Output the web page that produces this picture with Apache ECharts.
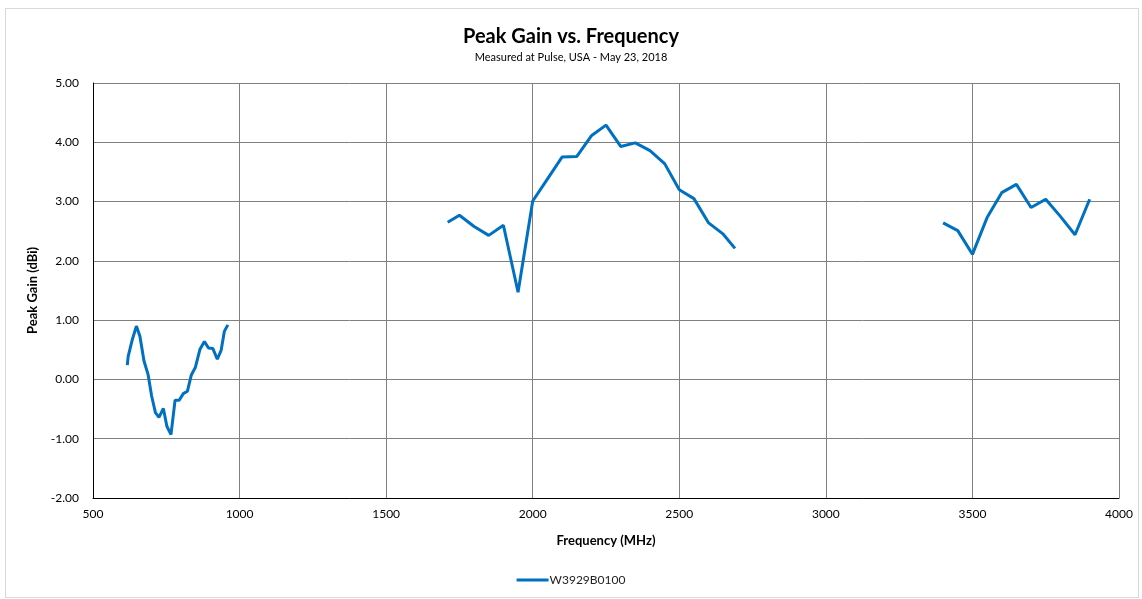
<!DOCTYPE html>
<html>
<head>
<meta charset="utf-8">
<script src="https://cdn.jsdelivr.net/npm/echarts@6/dist/echarts.min.js"></script>
<style>
html,body{margin:0;padding:0;background:#fff;}
#wrap{position:absolute;left:5px;top:8px;width:1134px;height:590px;border:1px solid #d9d9d9;box-sizing:border-box;}
#chart{position:absolute;left:0;top:0;width:1142px;height:599px;}
</style>
</head>
<body>
<div id="wrap"></div>
<div id="chart"></div>
<script>
// Low band
const freqLow = [617, 620, 634, 648, 660, 674, 688, 700, 713, 725, 740, 752, 766, 780, 794, 808, 822, 835, 849, 865, 880, 894, 909, 924, 937, 948, 960];
const gainLow = [0.24, 0.39, 0.67, 0.90, 0.73, 0.31, 0.08, -0.28, -0.56, -0.64, -0.49, -0.79, -0.93, -0.35, -0.35, -0.24, -0.20, 0.07, 0.20, 0.51, 0.64, 0.53, 0.52, 0.34, 0.49, 0.81, 0.92];
// Mid band
const freqMid = [1710, 1750, 1800, 1850, 1900, 1950, 2000, 2050, 2100, 2150, 2200, 2250, 2300, 2350, 2400, 2450, 2500, 2550, 2600, 2650, 2690];
const gainMid = [2.65, 2.77, 2.58, 2.43, 2.60, 1.47, 3.01, 3.38, 3.75, 3.76, 4.11, 4.29, 3.93, 3.99, 3.86, 3.64, 3.20, 3.05, 2.64, 2.45, 2.21];
// High band
const freqHigh = [3400, 3450, 3500, 3550, 3600, 3650, 3700, 3750, 3800, 3850, 3900];
const gainHigh = [2.64, 2.51, 2.11, 2.73, 3.15, 3.29, 2.90, 3.04, 2.75, 2.44, 3.04];

const seriesName = 'W3929B0100';
const titleText = 'Peak Gain vs. Frequency';
const subtitleText = 'Measured at Pulse, USA - May 23, 2018';

function pairs(f, g){ return f.map((x,i)=>[x, g[i]]); }
const data = [].concat(pairs(freqLow, gainLow), [[1300, null]], pairs(freqMid, gainMid), [[3000, null]], pairs(freqHigh, gainHigh));

const chart = echarts.init(document.getElementById('chart'), null, {renderer:'canvas'});
const font = 'Lato, "Open Sans", sans-serif';
chart.setOption({
  animation:false,
  title:{
    text:titleText, subtext:subtitleText, left:'center', top:22, itemGap:5,
    textStyle:{fontFamily:font, fontSize:20, fontWeight:'bold', color:'#000'},
    subtextStyle:{fontFamily:font, fontSize:11, color:'#000'}
  },
  legend:{
    bottom:8, left:'center', itemWidth:32, itemHeight:3, itemGap:4,
    icon:'rect',
    textStyle:{fontFamily:font, fontSize:12, color:'#222', padding:[0,0,0,-4]},
    data:[seriesName]
  },
  grid:{left:93, right:23, top:83, bottom:101, containLabel:false},
  xAxis:{
    type:'value', min:500, max:4000, interval:500,
    name:'Frequency (MHz)', nameLocation:'middle', nameGap:36,
    nameTextStyle:{fontFamily:font, fontSize:13, fontWeight:'bold', color:'#000'},
    axisLine:{show:true, onZero:false, lineStyle:{color:'#000', width:1}},
    axisTick:{show:false},
    axisLabel:{fontFamily:font, fontSize:12, color:'#000', margin:10, formatter:v=>String(v)},
    splitLine:{show:true, lineStyle:{color:'#808080', width:1}}
  },
  yAxis:{
    type:'value', min:-2, max:5, interval:1,
    name:'Peak Gain (dBi)', nameLocation:'middle', nameGap:54, nameRotate:90,
    nameTextStyle:{fontFamily:font, fontSize:13, fontWeight:'bold', color:'#000'},
    axisLine:{show:true, onZero:false, lineStyle:{color:'#000', width:1}},
    axisTick:{show:false},
    axisLabel:{fontFamily:font, fontSize:12, color:'#000', margin:14, formatter:v=>v.toFixed(2)},
    splitLine:{show:true, lineStyle:{color:'#808080', width:1}}
  },
  series:[{
    name:seriesName, type:'line', data:data, showSymbol:false, symbol:'none',
    connectNulls:false, smooth:false,
    lineStyle:{color:'#0070C0', width:3},
    itemStyle:{color:'#0070C0'}
  }]
});
</script>
</body>
</html>
